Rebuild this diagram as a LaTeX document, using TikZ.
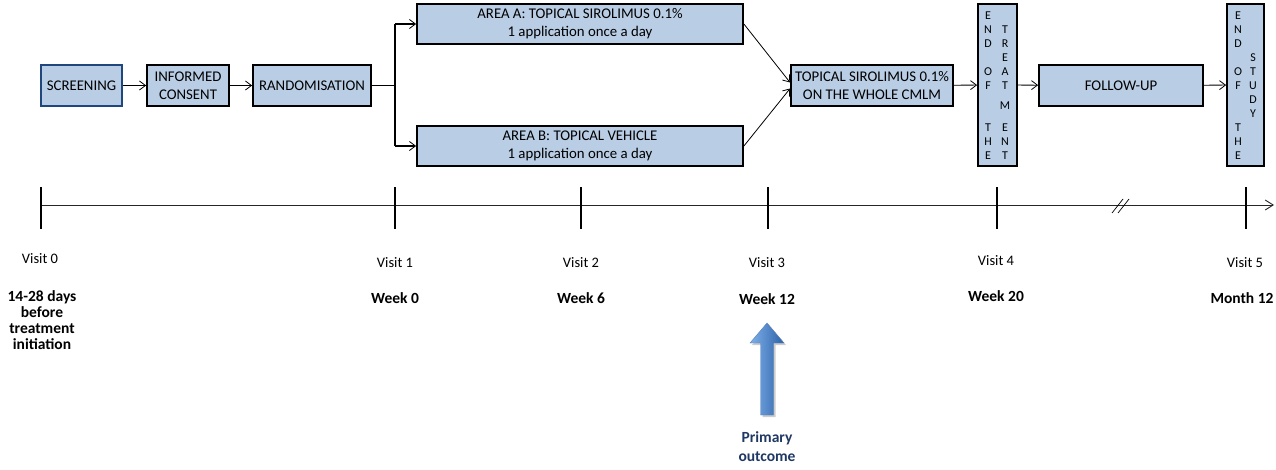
\documentclass[tikz,border=0pt]{standalone}
\usepackage{fontspec}
\setmainfont{Carlito}
\usetikzlibrary{arrows.meta}
\definecolor{boxblue}{HTML}{B9CDE5}
\definecolor{navyedge}{HTML}{1F477D}
\definecolor{pocol}{HTML}{1F3864}
\definecolor{arlight}{HTML}{7FB0EA}
\definecolor{ardark}{HTML}{2C62A8}
\begin{document}
\begin{tikzpicture}[x=1pt,y=-1pt,
  box/.style={draw=black,line width=1.8pt,fill=boxblue,inner sep=0pt,align=center,
    font=\fontsize{14.8}{18}\selectfont,minimum height=41},
  conn/.style={-{Straight Barb[length=6pt,width=9pt]},line width=0.8pt},
  elbow/.style={line width=1.5pt},
  vl/.style={inner sep=0pt,font=\fontsize{12}{12}\selectfont},
  tl/.style={line width=0.9pt,draw=black!85,-{Straight Barb[length=8pt,width=10pt]}},
  tickmark/.style={line width=1.6pt},
  vlab/.style={inner sep=0pt,font=\fontsize{14.5}{16}\selectfont},
  wlab/.style={inner sep=0pt,align=center,font=\fontsize{15.5}{16.3}\selectfont\bfseries},
]
\useasboundingbox (0,0) rectangle (1276,469);

% flow boxes
\node[box,draw=navyedge,minimum width=81] (scr) at (81.5,85.5) {SCREENING};
\node[box,minimum width=82] (ic) at (188,85.5) {INFORMED\\CONSENT};
\node[box,minimum width=118] (rnd) at (312,85.5) {RANDOMISATION};
\node[box,minimum width=326,minimum height=40] (aa) at (580,24) {AREA A: TOPICAL SIROLIMUS 0.1\%\\1 application once a day};
\node[box,minimum width=326,minimum height=40] (ab) at (580,146) {AREA B: TOPICAL VEHICLE\\1 application once a day};
\node[box,minimum width=162] (wh) at (872,85.5) {TOPICAL SIROLIMUS 0.1\%\\ON THE WHOLE CMLM};
\node[box,minimum width=39,minimum height=162] (eot) at (997.5,85) {};
\node[box,minimum width=164] (fu) at (1121,85.5) {FOLLOW-UP};
\node[box,minimum width=37,minimum height=162] (eos) at (1245.5,85) {};

% vertical letters
\foreach \ch/\yy [count=\i] in {E/16,N/30,D/44,O/72,F/86,T/128,H/142,E/156}
  \node[vl] (eotl\i) at (988,\yy) {\ch};
\foreach \ch/\yy [count=\i] in {T/30,R/44,E/58,A/72,T/86,M/106,E/128,N/142,T/156}
  \node[vl] (eotr\i) at (1005,\yy) {\ch};
\foreach \ch/\yy [count=\i] in {E/16,N/30,D/44,O/72,F/86,T/128,H/142,E/156}
  \node[vl] (eosl\i) at (1238,\yy) {\ch};
\foreach \ch/\yy [count=\i] in {S/58,T/72,U/86,D/100,Y/114}
  \node[vl] (eosr\i) at (1253,\yy) {\ch};

% connectors
\draw[conn] (scr) -- (ic);
\draw[conn] (ic) -- (rnd);
\coordinate (br) at (395,85.5);
\draw[elbow] (rnd.east) -- (br);
\draw[elbow] (br |- aa.west) -- (br |- ab.west);
\draw[elbow,-{Straight Barb[length=6pt,width=9pt,line width=0.8pt]}] (br |- aa.west) -- (aa.west);
\draw[elbow,-{Straight Barb[length=6pt,width=9pt,line width=0.8pt]}] (br |- ab.west) -- (ab.west);
\draw[conn] (aa.east) -- ([yshift=3pt]wh.west);
\draw[conn] (ab.east) -- ([yshift=-3pt]wh.west);
\draw[conn] (wh) -- (eot);
\draw[conn] (eot) -- (fu);
\draw[conn] (fu) -- (eos);

% timeline
\coordinate (v0) at (41,205);
\coordinate (v1) at (395,205);
\coordinate (v2) at (581,205);
\coordinate (v3) at (768,205);
\coordinate (v4) at (997,205);
\coordinate (v5) at (1246,205);
\coordinate (tend) at (1274,205);
\draw[tl] (v0) -- (tend);
\foreach \c in {v0,v1,v2,v3,v4,v5}
  \draw[tickmark] ([yshift=18pt]\c) -- ([yshift=-24pt]\c);
\draw[line width=0.7pt] (1112,213) -- (1123,199);
\draw[line width=0.7pt] (1118,213) -- (1129,199);

% labels
\node[vlab] (l0) at (40,259) {Visit 0};
\node[vlab] (l1) at (395,263) {Visit 1};
\node[vlab] (l2) at (581,263) {Visit 2};
\node[vlab] (l3) at (767,263) {Visit 3};
\node[vlab] (l4) at (996,261) {Visit 4};
\node[vlab] (l5) at (1245,263) {Visit 5};
\node[wlab,anchor=north] (w0) at (42,290) {14-28 days\\before\\treatment\\initiation};
\node[wlab] (w1) at (395,298) {Week 0};
\node[wlab] (w2) at (581,298) {Week 6};
\node[wlab] (w3) at (767,299) {Week 12};
\node[wlab] (w4) at (996,296) {Week 20};
\node[wlab] (w5) at (1242,298) {Month 12};

% primary outcome arrow
\fill[black!20] (769,325) -- (786,345) -- (775.5,345) -- (775.5,417) -- (762.5,417) -- (762.5,345) -- (752,345) -- cycle;
\shade[left color=arlight,right color=ardark,draw=ardark!80,line width=0.4pt]
  (767,323) -- (784,343) -- (773.5,343) -- (773.5,415) -- (760.5,415) -- (760.5,343) -- (750,343) -- cycle;
\node[wlab,text=pocol,font=\fontsize{15.5}{19}\selectfont\bfseries,anchor=north] (po) at (767,431) {Primary\\outcome};
\end{tikzpicture}
\end{document}
